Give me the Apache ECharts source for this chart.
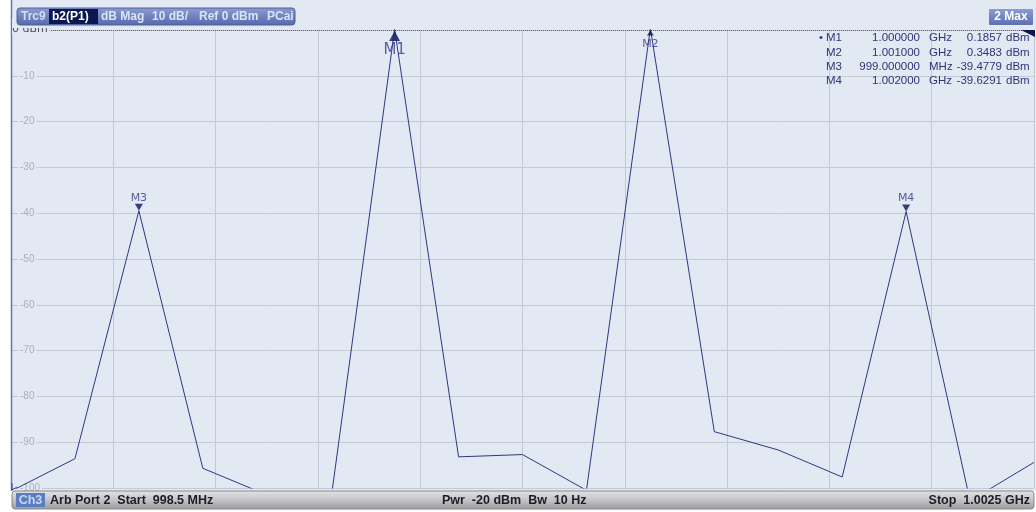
<!DOCTYPE html>
<html>
<head>
<meta charset="utf-8">
<script src="https://cdn.jsdelivr.net/npm/echarts@6/dist/echarts.min.js"></script>
<style>
html,body{margin:0;padding:0;background:#fff;}
#wrap{position:relative;width:1036px;height:512px;}
#bg{position:absolute;left:11px;top:0;width:1025px;height:491px;background:#e3e9f3;}
#chart{position:absolute;left:0;top:0;width:1036px;height:512px;}
</style>
</head>
<body>
<div id="wrap"><div id="bg"></div><div id="chart"></div></div>
<script>
// ---- data ----
const startMHz = 998.5;
const stopMHz = 1002.5;
const freqMHz = [998.5, 998.75, 999.0, 999.25, 999.5, 999.75, 1000.0, 1000.25, 1000.5,
                 1000.75, 1001.0, 1001.25, 1001.5, 1001.75, 1002.0, 1002.25, 1002.5];
const magDbm  = [-100.7, -93.6, -39.4779, -95.7, -101.5, -103.0, 0.1857, -93.2, -92.7,
                 -100.5, 0.3483, -87.7, -91.7, -97.6, -39.6291, -102.8, -94.4];
const yTicks = [0, -10, -20, -30, -40, -50, -60, -70, -80, -90, -100];
const markerNames = ['M1', 'M2', 'M3', 'M4'];
const markerFreqMHz = [1000.0, 1001.0, 999.0, 1002.0];
const markerDbm = [0.1857, 0.3483, -39.4779, -39.6291];

// ---- chart ----
const chart = echarts.init(document.getElementById('chart'), null, {renderer: 'canvas'});
const X = f => +(f - startMHz).toFixed(6);
const traceData = freqMHz.map((f, i) => [X(f), magDbm[i]]);
const refTop = yTicks[0];

const markerSym = markerNames.map((n, i) => {
  const over = markerDbm[i] > refTop;
  const active = i === 0;
  return {
    value: [X(markerFreqMHz[i]), Math.min(markerDbm[i], refTop)],
    symbol: 'triangle',
    symbolRotate: over ? 0 : 180,
    symbolSize: active ? [11, 10] : (over ? [7, 5] : [8, 7]),
    symbolOffset: over ? [0, active ? 6 : 3] : [0, -3.5]
  };
});
const markerLbl = markerNames.map((n, i) => {
  const over = markerDbm[i] > refTop;
  const active = i === 0;
  return {
    value: [X(markerFreqMHz[i]), Math.min(markerDbm[i], refTop)],
    label: {
      show: true, formatter: n, position: 'inside',
      offset: [0, over ? (active ? 20 : 14) : -13],
      fontSize: active ? 15 : 11,
      fontFamily: 'DejaVu Sans',
      color: active ? '#34408c' : '#2f3a86'
    }
  };
});

const txt = '#2f3577';
const font11 = "11.5px 'Liberation Sans'";
const hdrFont = "bold 12px 'Liberation Sans'";
const ftrFont = "bold 12.5px 'Liberation Sans'";
const graphics = [];
// left blue border
graphics.push({type: 'line', shape: {x1: 11.5, y1: 0, x2: 11.5, y2: 491}, style: {stroke: '#6477b8', lineWidth: 1.5}, z: 50});
// 0 dBm label (partly hidden by header / plot top)
graphics.push({type: 'text', x: 12, y: 35, style: {text: '0 dBm', font: "11px 'DejaVu Sans'", fill: '#4a4a55', textVerticalAlign: 'bottom', backgroundColor: '#e3e9f3', padding: [0, 2, 0, 0]}, z: 60});
graphics.push({type: 'rect', shape: {x: 12, y: 18, width: 40, height: 10}, style: {fill: '#e3e9f3'}, z: 65});
// header bar
graphics.push({type: 'rect', shape: {x: 17, y: 8, width: 278, height: 17, r: 3},
  style: {fill: new echarts.graphic.LinearGradient(0, 0, 0, 1, [{offset: 0, color: '#8b9dd3'}, {offset: 1, color: '#5668aa'}]), stroke: '#4d5f9d', lineWidth: 1}, z: 70});
graphics.push({type: 'rect', shape: {x: 49, y: 9, width: 49, height: 15}, style: {fill: '#0c1750'}, z: 71});
const hdrParts = [['Trc9', 21, '#d3dcf3'], ['b2(P1)', 52, '#ffffff'], ['dB Mag', 101, '#dbe3f7'], ['10 dB/', 152, '#dbe3f7'], ['Ref 0 dBm', 199, '#dbe3f7'], ['PCai', 267, '#dbe3f7']];
hdrParts.forEach(p => graphics.push({type: 'text', x: p[1], y: 16.5, style: {text: p[0], font: hdrFont, fill: p[2], textVerticalAlign: 'middle'}, z: 72}));
// 2 Max
graphics.push({type: 'rect', shape: {x: 989, y: 9, width: 44, height: 16, r: 1},
  style: {fill: new echarts.graphic.LinearGradient(0, 0, 0, 1, [{offset: 0, color: '#8a9cd3'}, {offset: 1, color: '#5d71b2'}])}, z: 70});
graphics.push({type: 'text', x: 1011, y: 17, style: {text: '2 Max', font: hdrFont, fill: '#ffffff', textAlign: 'center', textVerticalAlign: 'middle'}, z: 72});
// reference triangle at right
graphics.push({type: 'polygon', shape: {points: [[1021, 30], [1035, 30], [1035, 37]]}, style: {fill: '#0c1750'}, z: 60});
// left out-of-range tick
graphics.push({type: 'polyline', shape: {points: [[12, 483], [12, 490], [17, 487]]}, style: {stroke: '#3a3f8a', lineWidth: 1, fill: null}, z: 60});
// marker table
markerNames.forEach((n, i) => {
  const y = 38 + i * 14.4;
  const f = markerFreqMHz[i];
  const fStr = f >= 1000 ? (f / 1000).toFixed(6) : f.toFixed(6);
  const unit = f >= 1000 ? 'GHz' : 'MHz';
  if (i === 0) graphics.push({type: 'text', x: 819, y: y, style: {text: '•', font: font11, fill: txt, textVerticalAlign: 'middle'}, z: 60});
  graphics.push({type: 'text', x: 826, y: y, style: {text: n, font: font11, fill: txt, textVerticalAlign: 'middle'}, z: 60});
  graphics.push({type: 'text', x: 920, y: y, style: {text: fStr, font: font11, fill: txt, textAlign: 'right', textVerticalAlign: 'middle'}, z: 60});
  graphics.push({type: 'text', x: 929, y: y, style: {text: unit, font: font11, fill: txt, textVerticalAlign: 'middle'}, z: 60});
  graphics.push({type: 'text', x: 1002, y: y, style: {text: markerDbm[i].toFixed(4), font: font11, fill: txt, textAlign: 'right', textVerticalAlign: 'middle'}, z: 60});
  graphics.push({type: 'text', x: 1006, y: y, style: {text: 'dBm', font: font11, fill: txt, textVerticalAlign: 'middle'}, z: 60});
});
// footer bar
graphics.push({type: 'rect', shape: {x: 12, y: 491, width: 1022, height: 18, r: 3},
  style: {fill: new echarts.graphic.LinearGradient(0, 0, 0, 1, [{offset: 0, color: '#e4e4e6'}, {offset: 0.5, color: '#c4c4c6'}, {offset: 1, color: '#999a9c'}]), stroke: '#8a8a8c', lineWidth: 1}, z: 70});
graphics.push({type: 'rect', shape: {x: 16, y: 493, width: 29, height: 14}, style: {fill: '#5a7dc2'}, z: 71});
graphics.push({type: 'text', x: 30.5, y: 500.5, style: {text: 'Ch3', font: ftrFont, fill: '#c8d8f3', textAlign: 'center', textVerticalAlign: 'middle'}, z: 72});
graphics.push({type: 'text', x: 50, y: 500.5, style: {text: 'Arb Port 2  Start  ' + startMHz.toFixed(1) + ' MHz', font: ftrFont, fill: '#1c1c2a', textVerticalAlign: 'middle'}, z: 72});
graphics.push({type: 'text', x: 442, y: 500.5, style: {text: 'Pwr  -20 dBm  Bw  10 Hz', font: ftrFont, fill: '#1c1c2a', textVerticalAlign: 'middle'}, z: 72});
graphics.push({type: 'text', x: 1030, y: 500.5, style: {text: 'Stop  ' + (stopMHz / 1000).toFixed(4) + ' GHz', font: ftrFont, fill: '#1c1c2a', textAlign: 'right', textVerticalAlign: 'middle'}, z: 72});

chart.setOption({
  backgroundColor: 'transparent',
  animation: false,
  grid: {left: 11, right: 2, top: 30, bottom: 24, containLabel: false},
  xAxis: {
    type: 'value', min: 0, max: X(stopMHz), interval: 0.4,
    axisLine: {show: false}, axisTick: {show: false}, axisLabel: {show: false},
    splitLine: {show: true, lineStyle: {color: '#c4c9d4', width: 1}}
  },
  yAxis: {
    type: 'value', min: yTicks[yTicks.length - 1], max: yTicks[0], interval: 10,
    axisLine: {show: false}, axisTick: {show: false},
    axisLabel: {
      inside: true, margin: 7, color: '#a9aebb', fontSize: 10, fontFamily: 'Liberation Sans',
      backgroundColor: '#e3e9f3', padding: [0, 2],
      formatter: v => (v === 0 ? '' : String(v))
    },
    splitLine: {show: true, lineStyle: {color: '#c4c9d4', width: 1}}
  },
  series: [
    {
      type: 'line', data: traceData, symbol: 'none', clip: true,
      lineStyle: {color: '#30367f', width: 1}, z: 5,
      markLine: {
        silent: true, symbol: 'none', label: {show: false},
        lineStyle: {color: '#5f5f68', type: [1, 1], width: 1},
        data: [{yAxis: refTop}]
      }
    },
    {
      type: 'scatter', data: markerSym, clip: false,
      itemStyle: {color: '#0c1460'}, z: 8
    },
    {
      type: 'scatter', data: markerLbl, symbolSize: 1, clip: false,
      itemStyle: {color: 'rgba(0,0,0,0)'}, z: 9
    }
  ],
  graphic: graphics
});
</script>
</body>
</html>
